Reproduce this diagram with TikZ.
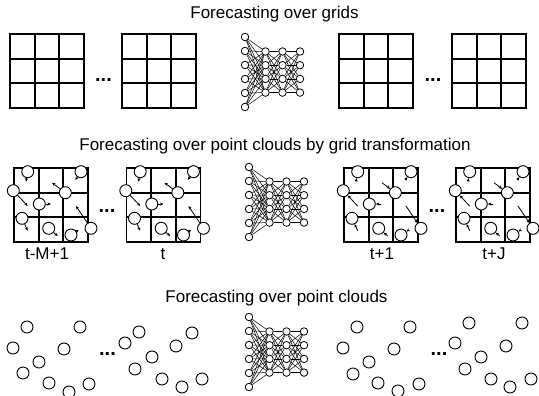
\documentclass[tikz,border=0pt]{standalone}
\usepackage{fontspec}
\setmainfont{Liberation Sans}
\usetikzlibrary{arrows.meta}

\tikzset{
  >={Stealth[length=3.5pt,width=3pt]},
  cellline/.style={line width=1.8pt},
  pt/.style={circle, draw, line width=0.9pt, fill=white, minimum size=12pt, inner sep=0pt},
  neuron/.style={circle, draw, line width=0.8pt, fill=white, minimum size=7.5pt, inner sep=0pt},
  synapse/.style={line width=0.5pt},
  move/.style={line width=0.8pt},
  title/.style={font=\fontsize{17}{20}\selectfont, anchor=base},
  dots/.style={font=\fontsize{20}{20}\selectfont\bfseries, inner sep=0pt},
  pics/cellgrid/.style={code={
    \draw[cellline] (0,0) rectangle (74,74);
    \foreach \k in {1,2} {
      \draw[cellline] (\k*74/3,0) -- (\k*74/3,74);
      \draw[cellline] (0,\k*74/3) -- (74,\k*74/3);
    }
  }},
  pics/pointgrid/.style={code={
    \pic {cellgrid};
    \foreach \n/\x/\y/\u/\v in {1/13.7/3.7/12/13.7, 2/67/3.7/61.3/12,
        3/-0.7/22.7/13.7/38, 4/51.3/24.7/38/14.7, 5/25.3/36/37/36,
        6/8/50.3/13.7/62.7, 7/34.7/60.3/43.7/68, 8/57/67/64.7/62,
        9/77/60.3/62/38} {
      \node[pt] (-p\n) at (\x,\y) {};
      \coordinate (-q\n) at (\u,\v);
    }
    \foreach \n in {1,...,9}
      \draw[move,#1] (-p\n) -- (-q\n);
  }},
  pics/net/.style={code={
    \foreach \j in {0,...,5}
      \node[neuron] (-a\j) at (0,\j*14) {};
    \foreach \c/\x in {b/20.5,c/37.5,d/55}
      \foreach \j in {0,...,3}
        \node[neuron] (-\c\j) at (\x,14.5+\j*13.7) {};
    \foreach \i in {0,...,5}
      \foreach \j in {0,...,3}
        \draw[synapse] (-a\i) -- (-b\j);
    \foreach \i in {0,...,3}
      \foreach \j in {0,...,3} {
        \draw[synapse] (-b\i) -- (-c\j);
        \draw[synapse] (-c\i) -- (-d\j);
      }
  }},
}

\begin{document}
\begin{tikzpicture}[x=1pt, y=-1pt]
  \useasboundingbox (0,0) rectangle (539,396);

  % forecasting over grids
  \node[title] (top) at (274.5,19) {Forecasting over grids};
  \pic (ga) at (10,34) {cellgrid};
  \pic (gb) at (122,34) {cellgrid};
  \pic (nt) at (245,37) {net};
  \pic (gc) at (339,34) {cellgrid};
  \pic (gd) at (452,34) {cellgrid};
  \node[dots] (dt1) at (103.5,80) {...};
  \node[dots] (dt2) at (433,80) {...};

  % grid transformation
  \node[title] (mid) at (275,150) {Forecasting over point clouds by grid transformation};
  \pic (pa) at (14,168) {pointgrid={->}};
  \pic (pb) at (126.5,168) {pointgrid={->}};
  \pic (nm) at (249,167) {net};
  \pic (pc) at (344,168) {pointgrid={<-}};
  \pic (pd) at (456,168) {pointgrid={<-}};
  \node[dots] (dm1) at (107,211) {...};
  \node[dots] (dm2) at (437,211) {...};
  \node[title] (la) at (47,259) {t-M+1};
  \node[title] (lb) at (163,259) {t};
  \node[title] (lc) at (382,259) {t+1};
  \node[title] (ld) at (494,259) {t+J};

  % point clouds
  \node[title] (bot) at (276.5,302) {Forecasting over point clouds};
  \foreach \n/\x/\y in {1/27/327, 2/80/327, 3/13/348, 4/64/349, 5/39/362,
      6/23/373, 7/49/383, 8/69/392, 9/89/384}
    \node[pt] (ca\n) at (\x,\y) {};
  \foreach \n/\x/\y in {1/139/332, 2/192/333, 3/125/343, 4/176/346, 5/152/357,
      6/135/369, 7/162/379, 8/182/387, 9/202/379}
    \node[pt] (cb\n) at (\x,\y) {};
  \pic (nb) at (249,317) {net};
  \foreach \n/\x/\y in {1/357/327, 2/410/327, 3/343/348, 4/394/349, 5/369/362,
      6/353/374, 7/378/383, 8/398/391, 9/419/384}
    \node[pt] (cc\n) at (\x,\y) {};
  \foreach \n/\x/\y in {1/469/323, 2/522/323, 3/455/343, 4/506/346, 5/481/357,
      6/465/369, 7/491/379, 8/510/387, 9/531/379}
    \node[pt] (cd\n) at (\x,\y) {};
  \node[dots] (db1) at (107.5,354) {...};
  \node[dots] (db2) at (439,354) {...};
\end{tikzpicture}
\end{document}
